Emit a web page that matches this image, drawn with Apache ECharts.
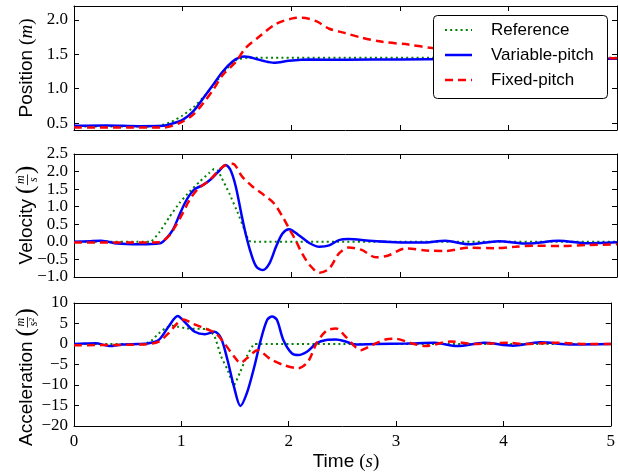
<!DOCTYPE html>
<html>
<head>
<meta charset="utf-8">
<script src="https://cdn.jsdelivr.net/npm/echarts@6/dist/echarts.min.js"></script>
<style>
  html, body { margin: 0; padding: 0; background: #fff; }
  #chart { width: 618px; height: 476px; }
</style>
</head>
<body>
<div id="chart"></div>
<script>
// ---- Series names ----
const seriesNames = ['Reference', 'Variable-pitch', 'Fixed-pitch'];

// ---- Tick values ----
const timeTicks = [0, 1, 2, 3, 4, 5];
const posTicks = [0.5, 1.0, 1.5, 2.0];
const velTicks = [-1.0, -0.5, 0.0, 0.5, 1.0, 1.5, 2.0, 2.5];
const accTicks = [-20, -15, -10, -5, 0, 5, 10];

// ---- Position (m) ----
const posRefT = [0, 0.7, 0.8, 0.9, 1.0, 1.1, 1.2, 1.3, 1.4, 1.5, 1.6, 1.7, 5];
const posRefV = [0.45, 0.45, 0.465, 0.52, 0.61, 0.73, 0.89, 1.08, 1.28, 1.42, 1.45, 1.45, 1.45];
const posVarT = [0, 0.3, 0.6, 0.82, 0.9, 1.0, 1.095, 1.19, 1.28, 1.37, 1.46, 1.52, 1.57, 1.61, 1.68, 1.74, 1.84, 1.98, 2.17, 2.5, 3.0, 3.5, 4.0, 4.5, 5];
const posVarV = [0.46, 0.465, 0.455, 0.46, 0.49, 0.547, 0.667, 0.862, 1.055, 1.25, 1.394, 1.45, 1.467, 1.46, 1.43, 1.404, 1.375, 1.404, 1.423, 1.42, 1.425, 1.43, 1.432, 1.435, 1.435];
const posFixT = [0, 0.5, 0.82, 0.97, 1.095, 1.19, 1.28, 1.37, 1.49, 1.58, 1.71, 1.86, 2.01, 2.1, 2.23, 2.35, 2.49, 2.65, 2.84, 3.08, 3.3, 3.6, 4.0, 4.4, 4.8, 5];
const posFixV = [0.435, 0.435, 0.435, 0.50, 0.62, 0.79, 0.98, 1.20, 1.39, 1.59, 1.76, 1.94, 2.02, 2.03, 1.98, 1.87, 1.81, 1.74, 1.68, 1.64, 1.59, 1.55, 1.51, 1.48, 1.45, 1.44];

// ---- Velocity (m/s) ----
const velRefT = [0, 0.7, 0.79, 0.88, 0.97, 1.064, 1.156, 1.248, 1.29, 1.32, 1.355, 1.43, 1.51, 1.57, 1.61, 1.65, 5];
const velRefV = [0, 0, 0.29, 0.715, 1.10, 1.43, 1.71, 1.97, 2.07, 2.05, 1.85, 1.38, 0.81, 0.34, 0.03, 0, 0];
const velVarT = [0, 0.15, 0.25, 0.4, 0.6, 0.79, 0.85, 0.91, 0.97, 1.02, 1.064, 1.11, 1.19, 1.26, 1.34, 1.395, 1.44, 1.49, 1.54, 1.58, 1.63, 1.68, 1.74, 1.80, 1.86, 1.92, 1.98, 2.07, 2.17, 2.26, 2.35, 2.44, 2.53, 2.72, 2.96, 3.2, 3.42, 3.63, 3.91, 4.18, 4.46, 4.73, 5];
const velVarV = [0, 0.02, 0.03, -0.05, -0.07, -0.04, 0.1, 0.34, 0.76, 1.10, 1.33, 1.5, 1.62, 1.78, 2.03, 2.19, 2.05, 1.57, 0.81, 0.24, -0.33, -0.71, -0.80, -0.61, -0.14, 0.24, 0.36, 0.19, -0.04, -0.14, -0.1, 0.05, 0.08, 0.03, -0.01, -0.02, 0.03, -0.07, 0.02, -0.05, 0.03, -0.04, -0.01];
const velFixT = [0, 0.5, 0.79, 0.88, 0.94, 1.0, 1.064, 1.14, 1.25, 1.37, 1.46, 1.55, 1.645, 1.75, 1.84, 1.92, 1.98, 2.04, 2.10, 2.17, 2.26, 2.35, 2.44, 2.53, 2.65, 2.78, 2.90, 3.05, 3.27, 3.42, 3.63, 3.88, 4.06, 4.24, 4.49, 4.73, 5];
const velFixV = [-0.02, -0.02, -0.01, 0.19, 0.48, 0.81, 1.19, 1.5, 1.76, 2.14, 2.22, 1.85, 1.57, 1.33, 1.10, 0.72, 0.38, 0.05, -0.33, -0.66, -0.88, -0.76, -0.33, -0.16, -0.23, -0.44, -0.38, -0.19, -0.25, -0.26, -0.17, -0.18, -0.14, -0.11, -0.12, -0.09, -0.07];

// ---- Acceleration (m/s^2) ----
const accRefT = [0, 0.65, 0.72, 0.79, 0.85, 0.91, 0.97, 1.05, 1.15, 1.25, 1.31, 1.37, 1.43, 1.49, 1.55, 1.61, 1.68, 1.72, 5];
const accRefV = [0, 0, 0.8, 2.6, 3.8, 4.5, 4.2, 3.8, 3.7, 3.6, 1.8, -3, -6.3, -10, -6.7, -3, 0, 0, 0];
const accVarT = [0, 0.1, 0.2, 0.33, 0.45, 0.6, 0.7, 0.79, 0.88, 0.966, 1.03, 1.125, 1.22, 1.31, 1.37, 1.43, 1.49, 1.55, 1.61, 1.68, 1.74, 1.80, 1.845, 1.89, 1.95, 2.03, 2.09, 2.17, 2.26, 2.35, 2.44, 2.53, 2.62, 2.81, 3.1, 3.36, 3.57, 3.82, 4.09, 4.34, 4.64, 5];
const accVarV = [0, 0.1, 0.2, -0.5, -0.1, 0, 0.2, 1.0, 4.2, 6.8, 5.4, 3.0, 2.4, 3.0, 1.4, -3.9, -10.4, -15.1, -12.0, -5.5, 1.0, 5.9, 6.7, 5.9, 1.0, -2.3, -2.7, -1.9, 0.2, 1.0, 1.1, 0.6, -0.1, 0, 0.1, 0.3, -0.5, 0.3, -0.4, 0.4, -0.1, 0];
const accFixT = [0, 0.5, 0.7, 0.79, 0.88, 0.96, 1.02, 1.11, 1.22, 1.32, 1.40, 1.49, 1.55, 1.61, 1.71, 1.83, 1.95, 2.09, 2.18, 2.26, 2.35, 2.44, 2.53, 2.62, 2.67, 2.78, 2.90, 2.99, 3.14, 3.27, 3.51, 3.72, 4.06, 4.18, 4.49, 4.80, 5];
const accFixV = [-0.3, -0.2, 0, 0.6, 2.6, 5.0, 6.0, 4.9, 3.8, 2.6, 0.2, -3.0, -4.6, -3.5, -1.5, -3.7, -5.1, -5.9, -4.3, 0.2, 3.2, 3.8, 1.8, -0.7, -1.5, -0.2, 1.1, 1.3, 0.2, -0.5, 0.6, 0, 0.3, 0, 0.3, 0, 0];

// ---- Styling ----
const SANS = 'Liberation Sans';
const SERIF = 'Liberation Serif';
const FRAME = '#000';
const colors = ['#008000', '#0000ff', '#ff0000'];
const lineStyles = [
  { width: 2, type: [2, 3.2] },
  { width: 2.5, type: 'solid' },
  { width: 2.5, type: [8, 5] }
];

const pairs = (t, v) => t.map((x, i) => [x, v[i]]);
const minus = s => s.replace('-', '\u2212');

const panels = [
  { top: 6, height: 124, min: 0.4, max: 2.2, ticks: posTicks, fmt: v => minus(v.toFixed(1)),
    data: [[posRefT, posRefV], [posVarT, posVarV], [posFixT, posFixV]] },
  { top: 154, height: 123, min: -1.0, max: 2.5, ticks: velTicks, fmt: v => minus(v.toFixed(1)),
    data: [[velRefT, velRefV], [velVarT, velVarV], [velFixT, velFixV]] },
  { top: 303, height: 123, min: -20, max: 10, ticks: accTicks, fmt: v => minus(String(v)),
    data: [[accRefT, accRefV], [accVarT, accVarV], [accFixT, accFixV]] }
];

const grid = [], xAxis = [], yAxis = [], series = [];
const tickStyle = { show: true, inside: true, length: 5, lineStyle: { color: FRAME, width: 1 } };
const lineStyleAxis = { show: true, onZero: false, lineStyle: { color: FRAME, width: 1 } };

panels.forEach((p, gi) => {
  grid.push({ left: 74, top: p.top, width: 543, height: p.height });
  const isBottom = gi === panels.length - 1;
  // bottom and top x axes (frame + inward ticks)
  ['bottom', 'top'].forEach(pos => {
    xAxis.push({
      type: 'value', gridIndex: gi, position: pos, min: 0, max: 5,
      axisLine: lineStyleAxis,
      axisTick: Object.assign({ customValues: timeTicks }, tickStyle),
      axisLabel: {
        show: isBottom && pos === 'bottom', customValues: timeTicks, margin: 7,
        fontFamily: SERIF, fontSize: 17, color: '#000', formatter: v => String(v)
      },
      splitLine: { show: false }
    });
  });
  ['left', 'right'].forEach(pos => {
    yAxis.push({
      type: 'value', gridIndex: gi, position: pos, min: p.min, max: p.max,
      axisLine: lineStyleAxis,
      axisTick: Object.assign({ customValues: p.ticks }, tickStyle),
      axisLabel: {
        show: pos === 'left', customValues: p.ticks, margin: 6,
        fontFamily: SERIF, fontSize: 17, color: '#000', formatter: p.fmt
      },
      splitLine: { show: false }
    });
  });
  p.data.forEach((d, si) => {
    series.push({
      type: 'line', name: seriesNames[si],
      xAxisIndex: gi * 2, yAxisIndex: gi * 2,
      data: pairs(d[0], d[1]),
      showSymbol: false, symbol: 'none', smooth: si === 0 ? 0.15 : 0.3,
      lineStyle: Object.assign({ color: colors[si] }, lineStyles[si]),
      z: 2 + si, silent: true, animation: false
    });
  });
});

// ---- Axis titles with math-style units ----
const measureCtx = document.createElement('canvas').getContext('2d');
function textWidth(text, font) { measureCtx.font = font; return measureCtx.measureText(text).width; }

function textEl(text, font, x, y, align) {
  return { type: 'text', x: x, y: y, z: 100,
    style: { text: text, font: font, fill: '#000', textAlign: align, textVerticalAlign: 'middle', align: align, verticalAlign: 'middle' } };
}

function makeTitle(parts, cx, cy, rotation) {
  let W = 0;
  parts.forEach(p => {
    if (p.gap) { p.w = p.gap; }
    else if (p.frac) { p.w = Math.max(textWidth(p.frac[0], p.font), textWidth(p.frac[1], p.font)) + 3; }
    else { p.w = textWidth(p.text, p.font); }
    W += p.w;
  });
  const children = [];
  let x = -W / 2;
  parts.forEach(p => {
    const dy = p.dy || 0;
    if (p.frac) {
      children.push(textEl(p.frac[0], p.font, x + p.w / 2, -6.5 + dy, 'center'));
      children.push(textEl(p.frac[1], p.font, x + p.w / 2, 7 + dy, 'center'));
      children.push({ type: 'line', z: 100, shape: { x1: x + 0.5, y1: 0.5 + dy, x2: x + p.w - 0.5, y2: 0.5 + dy },
        style: { stroke: '#000', lineWidth: 0.8 } });
    } else if (p.text) {
      children.push(textEl(p.text, p.font, x, dy, 'left'));
    }
    x += p.w;
  });
  return { type: 'group', x: cx, y: cy, rotation: rotation, children: children, z: 100 };
}

const sansF = `19px "${SANS}"`;
const serifF = `19px "${SERIF}"`;
const italicF = `italic 19px "${SERIF}"`;
const bigParen = `25px "${SERIF}"`;
const fracF = `italic 12px "${SERIF}"`;

const titles = [
  makeTitle([{ text: 'Position', font: sansF }, { gap: 5 }, { text: '(', font: serifF }, { text: 'm', font: italicF }, { text: ')', font: serifF }], 27, 68, Math.PI / 2),
  makeTitle([{ text: 'Velocity', font: sansF }, { gap: 5 }, { text: '(', font: bigParen, dy: -1 }, { frac: ['m', 's'], font: fracF }, { text: ')', font: bigParen, dy: -1 }], 27, 215, Math.PI / 2),
  makeTitle([{ text: 'Acceleration', font: sansF }, { gap: 5 }, { text: '(', font: bigParen, dy: -1 }, { frac: ['m', 's\u00b2'], font: fracF }, { text: ')', font: bigParen, dy: -1 }], 27, 377, Math.PI / 2),
  makeTitle([{ text: 'Time', font: sansF }, { gap: 5 }, { text: '(', font: serifF }, { text: 's', font: italicF }, { text: ')', font: serifF }], 346, 462, 0)
];

// ---- Legend box (drawn above the curves) ----
const legendBox = { left: 433, top: 15, width: 174, height: 83 };
const legendChildren = [{
  type: 'rect', z: 100,
  shape: { x: legendBox.left + 0.5, y: legendBox.top + 0.5, width: legendBox.width, height: legendBox.height, r: 4 },
  style: { fill: '#fff', stroke: '#000', lineWidth: 1 }
}];
seriesNames.forEach((name, i) => {
  const y = legendBox.top + 15 + i * 25;
  legendChildren.push({
    type: 'line', z: 101,
    shape: { x1: legendBox.left + 12, y1: y, x2: legendBox.left + 39, y2: y },
    style: { stroke: colors[i], lineWidth: lineStyles[i].width, lineDash: Array.isArray(lineStyles[i].type) ? lineStyles[i].type : null }
  });
  const t = textEl(name, `17px "${SANS}"`, legendBox.left + 58, y, 'left');
  t.z = 101;
  legendChildren.push(t);
});
const legendGroup = { type: 'group', z: 100, children: legendChildren };

const chart = echarts.init(document.getElementById('chart'), null, { renderer: 'canvas' });
chart.setOption({
  animation: false,
  backgroundColor: '#fff',
  grid: grid,
  xAxis: xAxis,
  yAxis: yAxis,
  series: series,
  graphic: titles.concat([legendGroup])
});
</script>
</body>
</html>
